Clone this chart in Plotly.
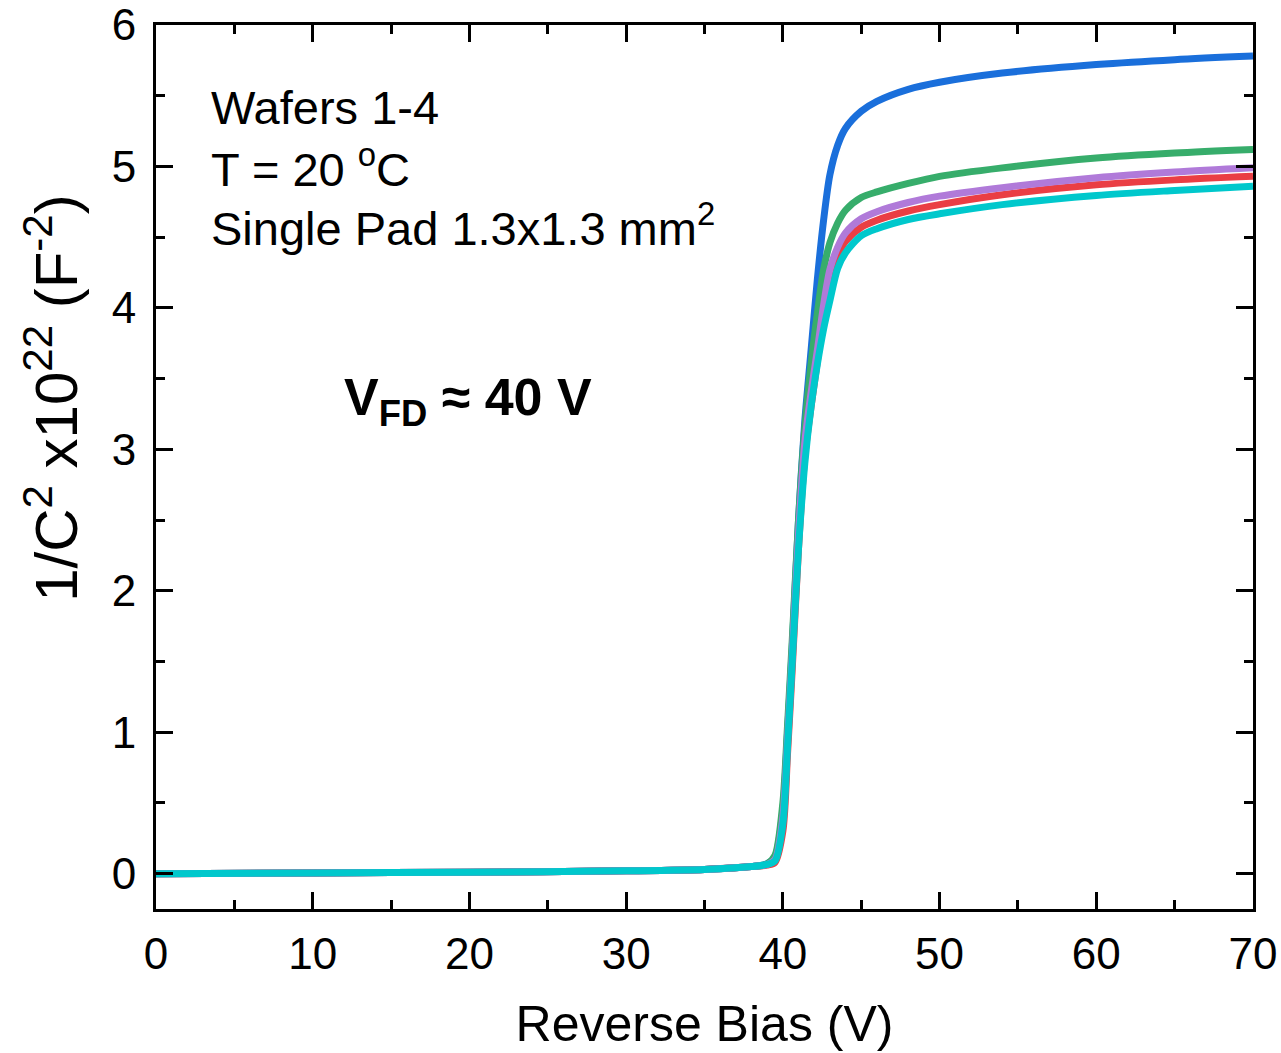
import plotly.graph_objects as go

# Reverse bias voltage (V)
bias = [0, 10, 20, 30, 35, 38, 39, 39.5, 40.0, 40.3, 40.6, 41.0, 41.4, 41.8,
        42.2, 42.6, 43.0, 43.5, 44.0, 45.0, 46.0, 48.0, 50.0, 54.0, 60.0, 65.0, 70.0]

# 1/C^2 x 1e22 (F^-2)
blue = [0, 0.005, 0.01, 0.02, 0.03, 0.05, 0.07, 0.12, 0.45, 1.0, 1.6, 2.5, 3.2, 3.7,
        4.2, 4.62, 4.94, 5.15, 5.27, 5.39, 5.46, 5.545, 5.595, 5.66, 5.72, 5.755, 5.78]
green = [0, 0.005, 0.01, 0.02, 0.03, 0.05, 0.07, 0.13, 0.5, 1.05, 1.65, 2.5, 3.15, 3.6,
         3.96, 4.27, 4.46, 4.6, 4.69, 4.78, 4.82, 4.88, 4.93, 4.99, 5.06, 5.095, 5.12]
red = [0, 0.005, 0.01, 0.02, 0.03, 0.05, 0.06, 0.08, 0.3, 0.85, 1.45, 2.3, 2.95, 3.3,
       3.62, 3.95, 4.2, 4.37, 4.47, 4.57, 4.62, 4.685, 4.73, 4.8, 4.87, 4.905, 4.93]
purple = [0, 0.005, 0.01, 0.02, 0.03, 0.05, 0.065, 0.1, 0.4, 0.95, 1.55, 2.4, 3.05, 3.4,
          3.7, 4.02, 4.27, 4.43, 4.53, 4.63, 4.68, 4.745, 4.79, 4.85, 4.92, 4.96, 4.99]
cyan = [0, 0.005, 0.01, 0.02, 0.03, 0.05, 0.065, 0.09, 0.35, 0.9, 1.5, 2.3, 2.9, 3.3,
        3.6, 3.85, 4.05, 4.28, 4.39, 4.51, 4.56, 4.625, 4.665, 4.73, 4.795, 4.83, 4.86]

series = [
    ("Wafer 1", blue, "#1a6fdb"),
    ("Wafer 2", green, "#37ad6b"),
    ("Wafer 3", red, "#ea3e44"),
    ("Wafer 4", purple, "#b07ad9"),
    ("Wafer 5", cyan, "#00c8cc"),
]

fig = go.Figure()
for name, vals, col in series:
    fig.add_trace(go.Scatter(x=bias, y=vals, mode="lines", name=name,
                             line=dict(color=col, width=7, shape="spline", smoothing=0.8)))

FONT = "Liberation Sans, Arial, sans-serif"
axis_common = dict(
    showline=True, linewidth=3, linecolor="black", mirror="allticks",
    ticks="inside", ticklen=17, tickwidth=3, tickcolor="black",
    showgrid=False, zeroline=False, automargin=False,
    tickfont=dict(family=FONT, size=44, color="black"),
)

fig.update_xaxes(range=[0, 70], dtick=10, tick0=0,
                 minor=dict(ticks="inside", ticklen=9, tickwidth=3, dtick=5, tickcolor="black"),
                 title=dict(text="Reverse Bias (V)", font=dict(family=FONT, size=50, color="black"),
                            standoff=30),
                 ticklabelstandoff=4,
                 **axis_common)
fig.update_yaxes(range=[-0.25, 6], dtick=1, tick0=0,
                 minor=dict(ticks="inside", ticklen=9, tickwidth=3, dtick=0.5, tickcolor="black"),
                 ticklabelstandoff=8,
                 **axis_common)

annos = [
    dict(text="1/C<sup>2</sup> x10<sup>22</sup> (F<sup>-2</sup>)", x=-0.095, y=0.578,
         textangle=-90, xanchor="center", font=dict(size=60)),
    dict(text="Wafers 1-4", x=0.048, y=0.907, xanchor="left", font=dict(size=47)),
    dict(text="T = 20 <sup>o</sup>C", x=0.048, y=0.840, xanchor="left", font=dict(size=47)),
    dict(text="Single Pad 1.3x1.3 mm<sup>2</sup>", x=0.048, y=0.774, xanchor="left", font=dict(size=47)),
    dict(text="<b>V<sub>FD</sub> ≈ 40 V</b>", x=0.170, y=0.575, xanchor="left", font=dict(size=52)),
]
for a in annos:
    a["font"].update(family=FONT, color="black")
    fig.add_annotation(xref="paper", yref="paper", showarrow=False, yanchor="middle", **a)

fig.update_layout(
    width=1281, height=1053,
    margin=dict(l=156, r=28, t=25, b=144, autoexpand=False),
    plot_bgcolor="white", paper_bgcolor="white",
    showlegend=False,
)

fig.write_html("out.html")
